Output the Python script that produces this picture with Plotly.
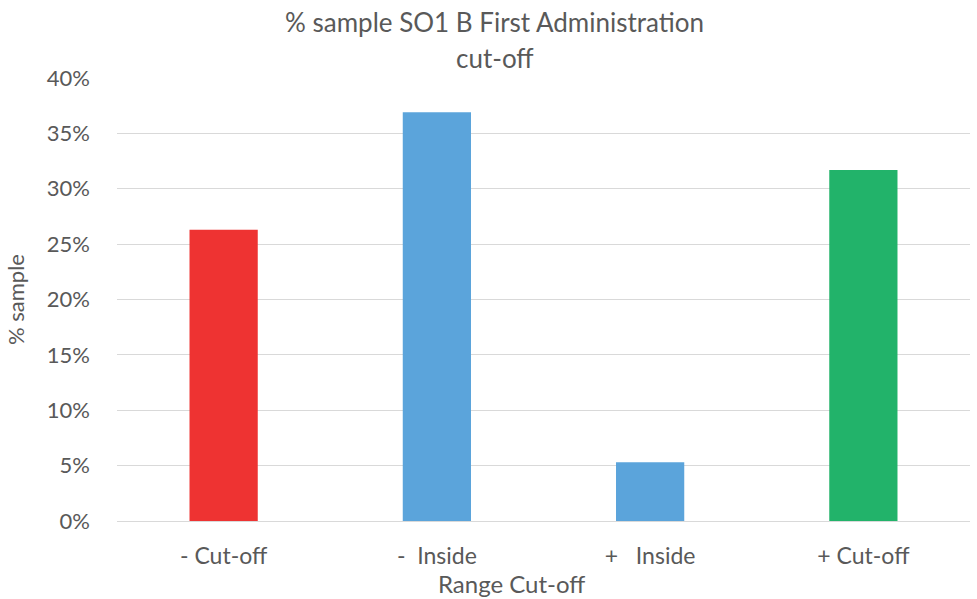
import plotly.graph_objects as go

# Share of the sample in each cut-off range
categories = ["- Cut-off", "-\u00a0\u00a0Inside", "+\u00a0\u00a0\u00a0Inside", "+ Cut-off"]
pct_sample = [26.3, 36.9, 5.3, 31.7]
bar_colors = ["#EE3332", "#5BA4DB", "#5BA4DB", "#22B36A"]

y_ticks = [0, 5, 10, 15, 20, 25, 30, 35, 40]
y_tick_labels = [f"{v}%" for v in y_ticks]

title_lines = ["% sample SO1 B First Administration", "cut-off"]
x_title = "Range Cut-off"

text_gray = "#595959"
font_family = "Lato, 'Open Sans', sans-serif"

fig = go.Figure(
    go.Bar(
        x=categories,
        y=pct_sample,
        marker=dict(color=bar_colors, line=dict(width=0)),
        hoverinfo="x+y",
    )
)

fig.update_layout(
    width=977,
    height=599,
    margin=dict(l=117, r=7, t=78, b=78),
    paper_bgcolor="white",
    plot_bgcolor="white",
    bargap=0.68,
    showlegend=False,
    font=dict(family=font_family, color=text_gray, size=22),
)

# Two-line chart title, centred on the page
for line, ypos in zip(title_lines, [1.126, 1.045]):
    fig.add_annotation(
        text=line,
        xref="paper", yref="paper",
        x=0.443, y=ypos,
        xanchor="center", yanchor="middle",
        showarrow=False,
        font=dict(size=26, color=text_gray, family=font_family),
    )

# Category axis title, sitting just under the tick labels
fig.add_annotation(
    text=x_title,
    xref="paper", yref="paper",
    x=0.462, y=-0.142,
    xanchor="center", yanchor="middle",
    showarrow=False,
    font=dict(size=24, color=text_gray, family=font_family),
)

fig.update_xaxes(
    showgrid=False,
    showline=False,
    ticks="",
    ticklabelstandoff=19,
    tickfont=dict(size=23, color=text_gray),
)

fig.update_yaxes(
    range=[0, 40],
    tickvals=y_ticks,
    ticktext=y_tick_labels,
    showgrid=True,
    gridcolor="#D9D9D9",
    gridwidth=1,
    zeroline=True,
    zerolinecolor="#D9D9D9",
    zerolinewidth=1,
    showline=False,
    ticks="",
    ticklabelstandoff=26,
    tickfont=dict(size=22, color=text_gray),
    title=dict(text="% sample", font=dict(size=22, color=text_gray), standoff=16),
)

fig.write_html("out.html")
